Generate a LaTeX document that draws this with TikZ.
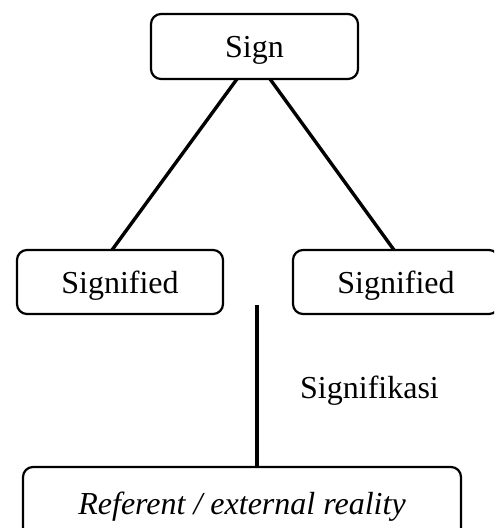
\documentclass[tikz,border=0pt]{standalone}
\usepackage{fontspec}
\setmainfont{Liberation Serif}
\begin{document}
\begin{tikzpicture}[x=0.5pt,y=-0.5pt,
  box/.style={draw, line width=1.1pt, rounded corners=5pt, inner sep=0pt, outer sep=0pt,
    text depth=0pt, font=\fontsize{16pt}{19pt}\selectfont},
  link/.style={line width=1.7pt},
  lbl/.style={inner sep=0pt, font=\fontsize{16pt}{19pt}\selectfont}]
\clip (0,0) rectangle (494,528);
\useasboundingbox (0,0) rectangle (494,528);
\node[box, minimum width=103.5pt, minimum height=32.5pt] (sign) at (254.5,46.5) {Sign};
\node[box, minimum width=103pt, minimum height=32pt] (sdl) at (120,282) {Signified};
\node[box, minimum width=103pt, minimum height=32pt] (sdr) at (396,282) {Signified};
\node[box, minimum width=219pt, minimum height=36pt] (ref) at (242,503) {\itshape Referent / external reality};
\node[lbl] (sig) at (369.5,391) {Signifikasi};
\coordinate (top) at (257,305);
\draw[link] (sign.south -| 237,0) -- (sdl.north -| 112,0);
\draw[link] (sign.south -| 270,0) -- (sdr.north -| 394,0);
\draw[link] (top) -- (ref.north -| top);
\end{tikzpicture}
\end{document}
